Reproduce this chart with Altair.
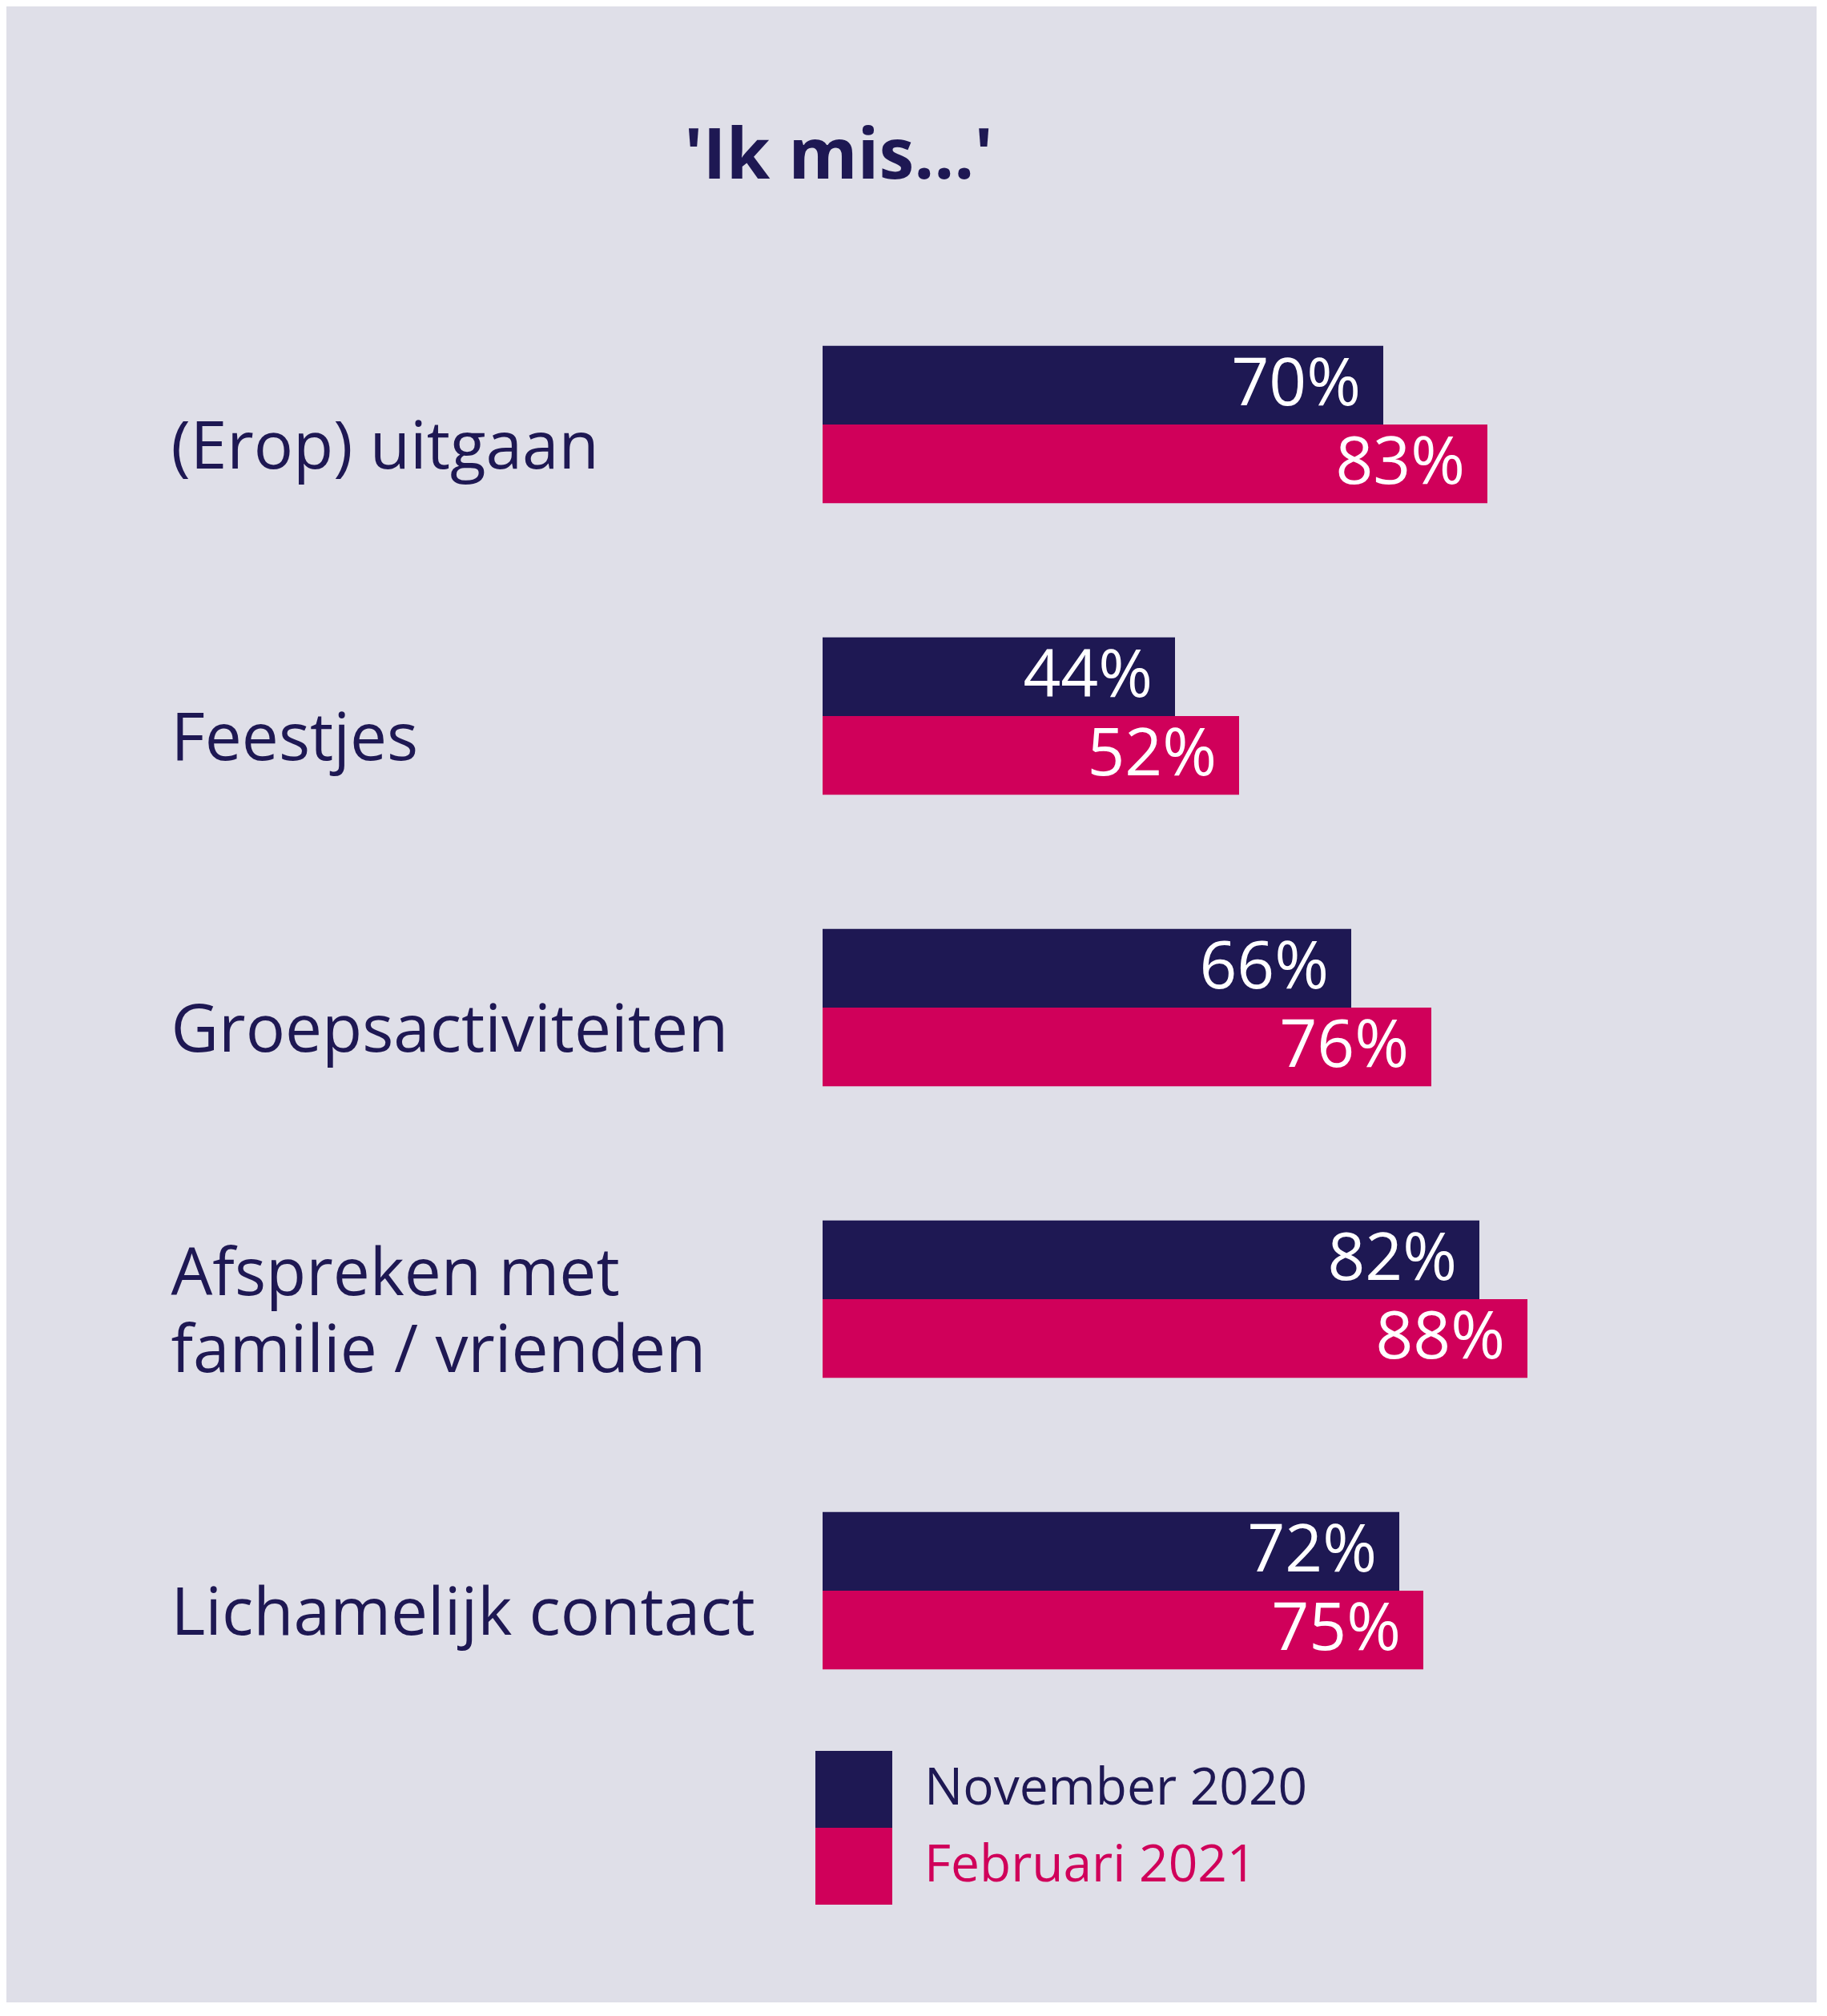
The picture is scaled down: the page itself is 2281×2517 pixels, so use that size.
import altair as alt
import pandas as pd

# ---- data ----
categories = [
    "(Erop) uitgaan",
    "Feestjes",
    "Groepsactiviteiten",
    "Afspreken met familie / vrienden",
    "Lichamelijk contact",
]
series = ["November 2020", "Februari 2021"]
nov_2020 = [70, 44, 66, 82, 72]
feb_2021 = [83, 52, 76, 88, 75]
colors = ["#1E1853", "#D0005A"]
title_text = "'Ik mis...'"

rows = []
for i, c in enumerate(categories):
    rows.append({"categorie": c, "periode": series[0], "waarde": nov_2020[i], "label": f"{nov_2020[i]}%"})
    rows.append({"categorie": c, "periode": series[1], "waarde": feb_2021[i], "label": f"{feb_2021[i]}%"})
df = pd.DataFrame(rows)

FONT = "Open Sans"
NAVY, MAGENTA = colors
BG = "#DFDFE8"

x_enc = alt.X("waarde:Q", scale=alt.Scale(domain=[0, 100]), axis=None)
y_enc = alt.Y(
    "categorie:N",
    sort=categories,
    title=None,
    scale=alt.Scale(paddingInner=0.46, paddingOuter=0.23),
    axis=alt.Axis(
        orient="left",
        domain=False,
        ticks=False,
        tickSize=0,
        grid=False,
        labelPadding=814,
        labelAlign="left",
        labelBaseline="middle",
        labelFontSize=82,
        labelFont=FONT,
        labelColor=NAVY,
        labelLimit=2000,
        labelOffset={
            "condition": {"test": "indexof(datum.label, ' met ') >= 0", "value": -30},
            "value": 30,
        },
        labelLineHeight=96,
        labelExpr="split(replace(datum.label, 'met ', 'met|'), '|')",
    ),
)
yoff = alt.YOffset("periode:N", sort=series)

bars = alt.Chart(df).mark_bar().encode(
    x=x_enc,
    y=y_enc,
    yOffset=yoff,
    color=alt.Color(
        "periode:N",
        sort=series,
        scale=alt.Scale(domain=series, range=colors),
        legend=alt.Legend(
            title=None,
            orient="none",
            legendX=-9,
            legendY=1838,
            padding=0,
            symbolType="square",
            symbolSize=9216,
            symbolStrokeWidth=0,
            symbolOpacity=1,
            rowPadding=0,
            labelFont=FONT,
            labelFontSize=64,
            labelOffset=40,
            labelLimit=2000,
            labelColor=alt.ExprRef(expr="datum.label == 'Februari 2021' ? '#D0005A' : '#1E1853'"),
        ),
    ),
)

text = alt.Chart(df).mark_text(
    align="right", baseline="middle", dx=-28, color="white", font=FONT, fontSize=82
).encode(x=x_enc, y=y_enc, yOffset=yoff, text="label:N")

chart = (
    alt.layer(bars, text)
    .properties(
        width=1000,
        height=1820,
        title=alt.TitleParams(
            text=title_text,
            font=FONT,
            fontSize=88,
            fontWeight="bold",
            color=NAVY,
            anchor="middle",
            frame="group",
            dx=-480,
            offset=37,
            baseline="alphabetic",
        ),
        background=BG,
        padding={"left": 1019, "top": 340, "right": 241, "bottom": 332},
        autosize=alt.AutoSizeParams(type="none"),
    )
    .configure_view(strokeWidth=0)
)

chart.save("out.html", embed_options={"renderer": "svg", "actions": False})
